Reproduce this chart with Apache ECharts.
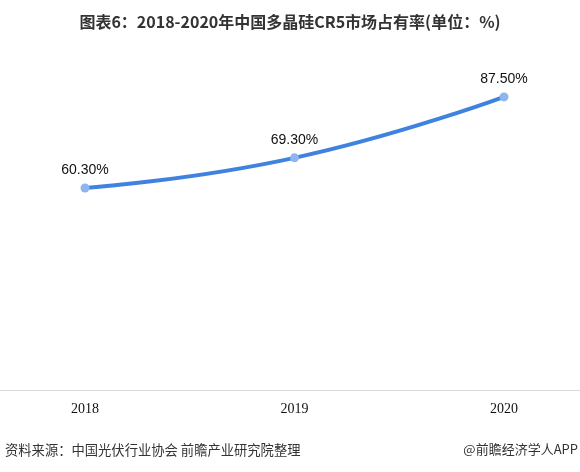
<!DOCTYPE html>
<html><head><meta charset="utf-8">
<script src="https://cdn.jsdelivr.net/npm/echarts@6/dist/echarts.min.js"></script>
<style>html,body{margin:0;padding:0;background:#fff}#c{width:580px;height:472px}</style>
</head><body><div id="c"></div>
<script>
const categories = ['2018', '2019', '2020'];
const shareValues = [60.3, 69.3, 87.5];
const labelTexts = ['60.30%', '69.30%', '87.50%'];

const chart = echarts.init(document.getElementById('c'));
chart.setOption({
  backgroundColor: '#fff',
  animation: false,
  title: {
    text: '图表6：2018-2020年中国多晶硅CR5市场占有率(单位：%)',
    left: 'center', top: 9,
    textStyle: {fontFamily: 'Noto Sans CJK SC', fontWeight: 'bold', fontSize: 16, color: '#333'}
  },
  graphic: [
    {type: 'text', left: 5, top: 443, style: {text: '资料来源：中国光伏行业协会 前瞻产业研究院整理', fontFamily: 'Noto Sans CJK SC', fontSize: 13.3, fill: '#333'}},
    {type: 'text', right: 2, top: 443, style: {text: '@前瞻经济学人APP', fontFamily: 'Noto Sans CJK SC', fontSize: 13, fill: '#333'}}
  ],
  grid: [
    {left: 0, right: 0, top: 55, bottom: 82},
    {left: 85, right: 76, top: 55, bottom: 82}
  ],
  xAxis: [
    {
      type: 'category', gridIndex: 0, data: categories,
      axisLine: {lineStyle: {color: '#d9d9d9'}},
      axisTick: {show: false}, axisLabel: {show: false}
    },
    {
      type: 'category', gridIndex: 1, data: categories, boundaryGap: false,
      axisLine: {show: false},
      axisTick: {show: false},
      axisLabel: {fontFamily: 'Liberation Serif', fontSize: 14, color: '#111', margin: 12}
    }
  ],
  yAxis: [
    {type: 'value', gridIndex: 0, min: 0, max: 100, show: false},
    {type: 'value', gridIndex: 1, min: 0, max: 100, show: false}
  ],
  series: [{
    type: 'line', smooth: true,
    xAxisIndex: 1, yAxisIndex: 1,
    data: shareValues,
    lineStyle: {color: '#3f82e0', width: 4},
    itemStyle: {color: '#8db5ef'},
    symbol: 'circle', symbolSize: 9,
    label: {
      show: true, position: 'top', distance: 6,
      formatter: p => labelTexts[p.dataIndex],
      fontFamily: 'Liberation Sans', fontSize: 14, color: '#111'
    }
  }]
});
</script></body></html>
